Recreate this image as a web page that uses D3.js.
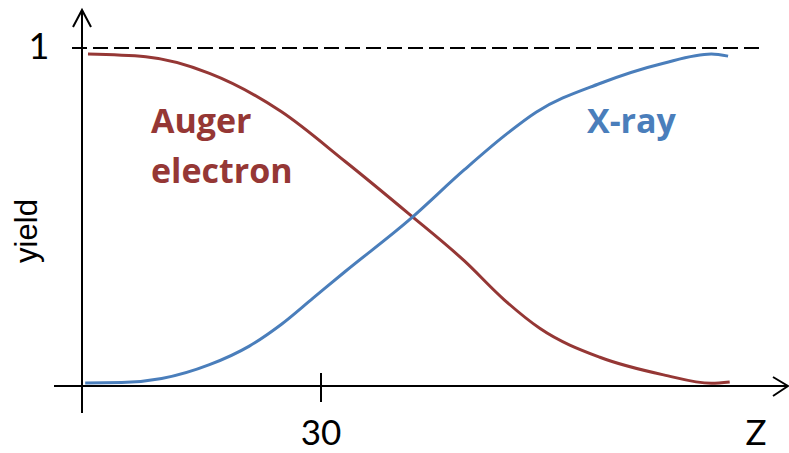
<!DOCTYPE html>
<html>
<head>
<meta charset="utf-8">
<script src="https://cdn.jsdelivr.net/npm/d3@7"></script>
<style>
  body { margin: 0; background: #fff; }
</style>
</head>
<body>
<svg id="chart" width="789" height="453"></svg>
<script>
// values (Z, yield)
var augerZ     = [0.75, 8, 16, 25, 33, 41, 48, 53, 57.5, 65, 73, 79, 81.3];
var augerYield = [0.982, 0.974, 0.925, 0.812, 0.665, 0.51, 0.37, 0.255, 0.17, 0.085, 0.033, 0.008, 0.012];

var xrayZ     = [0.4, 5, 10, 16, 21, 25, 29, 33, 41, 48, 53, 57, 65, 73, 79, 81.1];
var xrayYield = [0.009, 0.010, 0.022, 0.063, 0.118, 0.182, 0.26, 0.338, 0.49, 0.64, 0.74, 0.81, 0.895, 0.955, 0.982, 0.976];

var zTicks = [30];
var yTicks = [1];

var red  = "#953735";
var blue = "#4a7ebb";

var svg = d3.select("#chart");

var x = d3.scaleLinear().domain([0, 30]).range([82, 321]);
var y = d3.scaleLinear().domain([0, 1]).range([386, 48]);

// axes (drawn by hand, with arrows)
svg.append("line")
   .attr("x1", x(0)).attr("x2", x(0))
   .attr("y1", 413).attr("y2", 10)
   .attr("stroke", "#000").attr("stroke-width", 2);
svg.append("path")
   .attr("d", "M" + (x(0) - 9) + ",27L" + x(0) + ",10L" + (x(0) + 9) + ",27")
   .attr("fill", "none").attr("stroke", "#000").attr("stroke-width", 2);

svg.append("line")
   .attr("x1", 54).attr("x2", 788)
   .attr("y1", y(0)).attr("y2", y(0))
   .attr("stroke", "#000").attr("stroke-width", 2);
svg.append("path")
   .attr("d", "M773," + (y(0) - 9) + "L788," + y(0) + "L773," + (y(0) + 10))
   .attr("fill", "none").attr("stroke", "#000").attr("stroke-width", 2);

// tick at Z = 30
svg.selectAll(".xtick")
   .data(zTicks)
   .enter().append("line")
   .attr("class", "xtick")
   .attr("x1", function(d) { return x(d); })
   .attr("x2", function(d) { return x(d); })
   .attr("y1", y(0) - 13).attr("y2", y(0) + 16)
   .attr("stroke", "#000").attr("stroke-width", 2);

svg.selectAll(".xlabel")
   .data(zTicks)
   .enter().append("text")
   .attr("class", "xlabel")
   .attr("x", function(d) { return x(d); })
   .attr("y", 445)
   .attr("text-anchor", "middle")
   .attr("font-family", "Lato")
   .attr("font-size", "35px")
   .text(function(d) { return d; });

// dashed line at yield = 1
svg.selectAll(".ref")
   .data(yTicks)
   .enter().append("line")
   .attr("class", "ref")
   .attr("x1", 72).attr("x2", 762)
   .attr("y1", function(d) { return y(d); })
   .attr("y2", function(d) { return y(d); })
   .attr("stroke", "#000").attr("stroke-width", 2)
   .attr("stroke-dasharray", "15,6");

svg.selectAll(".ylabel")
   .data(yTicks)
   .enter().append("text")
   .attr("class", "ylabel")
   .attr("x", 39)
   .attr("y", function(d) { return y(d) + 11; })
   .attr("text-anchor", "middle")
   .attr("font-family", "Lato")
   .attr("font-size", "36px")
   .text(function(d) { return d; });

svg.append("text")
   .attr("x", 756)
   .attr("y", 445)
   .attr("text-anchor", "middle")
   .attr("font-family", "Lato")
   .attr("font-size", "35px")
   .text("Z");

svg.append("text")
   .attr("transform", "translate(37,231) rotate(-90)")
   .attr("text-anchor", "middle")
   .attr("font-family", "Liberation Sans")
   .attr("font-size", "31px")
   .text("yield");

// curves
var line = d3.line()
   .x(function(d) { return x(d[0]); })
   .y(function(d) { return y(d[1]); })
   .curve(d3.curveMonotoneX);

svg.append("path")
   .datum(d3.zip(augerZ, augerYield))
   .attr("d", line)
   .attr("fill", "none")
   .attr("stroke", red)
   .attr("stroke-width", 3);

svg.append("path")
   .datum(d3.zip(xrayZ, xrayYield))
   .attr("d", line)
   .attr("fill", "none")
   .attr("stroke", blue)
   .attr("stroke-width", 3);

// curve labels
var auger = svg.append("text")
   .attr("font-family", "Open Sans")
   .attr("font-weight", "bold")
   .attr("font-size", "34px")
   .attr("fill", red);
auger.append("tspan").attr("x", 151).attr("y", 133).text("Auger");
auger.append("tspan").attr("x", 151).attr("y", 183).text("electron");

svg.append("text")
   .attr("x", 587)
   .attr("y", 133)
   .attr("font-family", "Open Sans")
   .attr("font-weight", "bold")
   .attr("font-size", "34px")
   .attr("fill", blue)
   .text("X-ray");
</script>
</body>
</html>
